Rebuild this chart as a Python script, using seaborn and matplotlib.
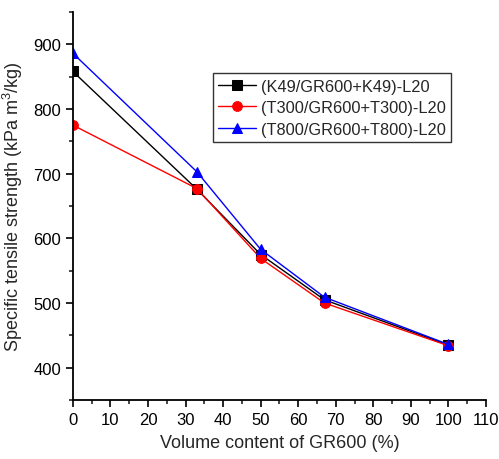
import matplotlib
matplotlib.use("Agg")
import matplotlib.pyplot as plt
import seaborn as sns
import pandas as pd
from matplotlib.ticker import MultipleLocator

sns.set_theme(style="ticks")
plt.rcParams['font.family'] = ['Liberation Sans', 'DejaVu Sans']
plt.rcParams['mathtext.fontset'] = 'custom'
plt.rcParams['mathtext.rm'] = 'Liberation Sans'

volume = [0, 33, 50, 67, 100]
k49 = [858, 676, 575, 505, 435]
t300 = [775, 677, 569, 500, 434]
t800 = [886, 703, 583, 509, 436]
labels = ["(K49/GR600+K49)-L20", "(T300/GR600+T300)-L20", "(T800/GR600+T800)-L20"]
colors = ["black", "red", "blue"]
markers = ["s", "o", "^"]

df = pd.concat([
    pd.DataFrame({"x": volume, "y": vals, "series": lab})
    for vals, lab in zip([k49, t300, t800], labels)
])

fig = plt.figure(figsize=(4.99, 4.6), dpi=100)
ax = fig.add_axes([0.146, 0.128, 0.828, 0.844])
for lab, c, m in zip(labels, colors, markers):
    sub = df[df.series == lab]
    sns.lineplot(data=sub, x="x", y="y", ax=ax, color=c, marker=m, markersize=7,
                 markeredgecolor=c, linewidth=1, label=lab)

ax.set_xlim(0, 110)
ax.set_ylim(350, 950)
ax.xaxis.set_major_locator(MultipleLocator(10))
ax.xaxis.set_minor_locator(MultipleLocator(5))
ax.yaxis.set_major_locator(MultipleLocator(100))
ax.yaxis.set_minor_locator(MultipleLocator(50))
ax.tick_params(which='major', direction='out', length=5, width=1.2, labelsize=12, colors='black')
ax.tick_params(which='minor', direction='out', length=3, width=1.2)
for s in ['top', 'right']:
    ax.spines[s].set_visible(False)
for s in ['left', 'bottom']:
    ax.spines[s].set_linewidth(1.3)
    ax.spines[s].set_color('black')
ax.set_yticks([400, 500, 600, 700, 800, 900])
ax.set_xlabel("Volume content of GR600 (%)", fontsize=13, labelpad=5)
ax.set_ylabel("Specific tensile strength (kPa m$^3$/kg)", fontsize=13, labelpad=6)
leg = ax.legend(loc='upper left', bbox_to_anchor=(0.338, 0.843), fontsize=11.8,
                frameon=True, fancybox=False, edgecolor='black', handlelength=2.3,
                borderpad=0.35, labelspacing=0.4, handletextpad=0.3, borderaxespad=0)
leg.get_frame().set_linewidth(1)
fig.savefig("out.png", dpi=100)
